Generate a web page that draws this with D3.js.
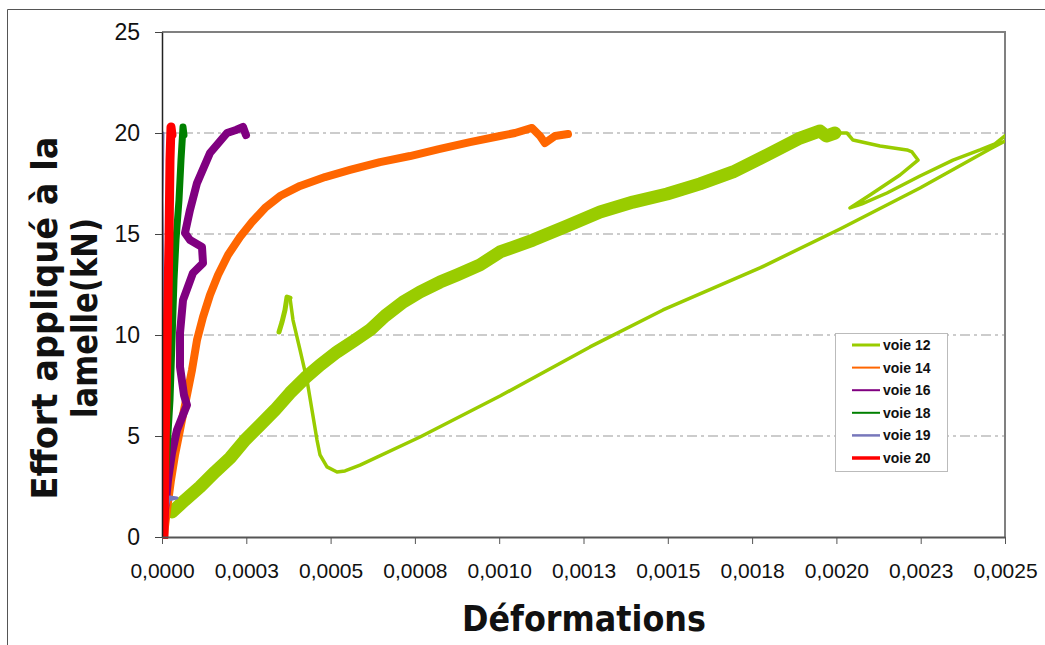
<!DOCTYPE html>
<html><head><meta charset="utf-8">
<script src="https://cdn.jsdelivr.net/npm/d3@7"></script>
<style>body{margin:0;background:#fff}</style>
</head><body>
<svg id="c" width="1045" height="645"></svg>
<script>
// ---- data ----
const yTicks = [0, 5, 10, 15, 20, 25];
const xTicks = [0, 0.00025, 0.0005, 0.00075, 0.001, 0.00125, 0.0015, 0.00175, 0.002, 0.00225, 0.0025];
const xTickLabels = ["0,0000","0,0003","0,0005","0,0008","0,0010","0,0013","0,0015","0,0018","0,0020","0,0023","0,0025"];
const seriesNames = ["voie 12","voie 14","voie 16","voie 18","voie 19","voie 20"];
const seriesColors = ["#99cc00","#ff6600","#800080","#008000","#7777bb","#ff0000"];

// voie 12: noisy loading branch
const voie12Load = [[0.0000297,1.24],[0.0000682,1.83],[0.0001127,2.48],[0.0001572,3.22],[0.0002017,3.91],[0.0002461,4.80],[0.0002906,5.54],[0.0003351,6.29],[0.0003796,7.13],[0.0004241,7.87],[0.0004686,8.51],[0.0005190,9.16],[0.0005724,9.75],[0.0006168,10.25],[0.0006613,10.94],[0.0007147,11.63],[0.0007651,12.13],[0.0008244,12.62],[0.0008749,12.97],[0.0009431,13.47],[0.0010024,14.11],[0.0011002,14.70],[0.0012011,15.40],[0.0012989,16.09],[0.0013968,16.58],[0.0014976,16.98],[0.0015955,17.48],[0.0016934,18.07],[0.0017942,18.91],[0.0018921,19.75],[0.0019514,20.10],[0.0019700,19.85],[0.0019958,20.00]];
// voie 12: unloading / reloading branch
const voie12Tail = [[0.0019958,20.00],[0.0020314,20.00],[0.0020492,19.65],[0.0021293,19.36],[0.0022094,19.16],[0.0022242,19.06],[0.0022420,18.66],[0.0021886,17.92],[0.0020996,16.93],[0.0020403,16.29],[0.0020759,16.49],[0.0021500,17.03],[0.0022479,17.87],[0.0023458,18.66],[0.0024259,19.16],[0.0024703,19.46],[0.0025208,20.15],[0.0025208,19.75],[0.0025000,19.60],[0.0024555,19.21],[0.0022479,17.28],[0.0020107,15.25],[0.0017734,13.32],[0.0014858,11.24],[0.0012693,9.41],[0.0010024,6.98],[0.0007651,4.95],[0.0005872,3.56],[0.0005427,3.27],[0.0005190,3.22],[0.0004893,3.47],[0.0004686,4.06],[0.0004597,4.80],[0.0004448,6.29],[0.0004300,7.77],[0.0004093,9.26],[0.0003885,10.74],[0.0003796,11.83]];
// voie 12: short end hook
const voie12Hook = [[0.0003796,11.83],[0.0003707,11.88],[0.0003648,11.24],[0.0003559,10.64],[0.0003470,10.15]];
const voie14 = [[0.0000059,0.10],[0.0000148,1.34],[0.0000267,2.82],[0.0000386,4.06],[0.0000534,5.30],[0.0000712,6.78],[0.0000890,8.27],[0.0001038,9.75],[0.0001216,10.89],[0.0001423,11.98],[0.0001661,12.97],[0.0001957,13.96],[0.0002313,14.85],[0.0002669,15.59],[0.0003055,16.29],[0.0003499,16.88],[0.0004093,17.38],[0.0004834,17.82],[0.0005575,18.17],[0.0006465,18.56],[0.0007355,18.86],[0.0008244,19.21],[0.0009134,19.55],[0.0010024,19.85],[0.0010469,20.00],[0.0010973,20.25],[0.0011210,19.85],[0.0011358,19.50],[0.0011655,19.85],[0.0012040,19.95]];
const voie16 = [[0.0000030,0.00],[0.0000089,1.34],[0.0000178,2.82],[0.0000297,4.16],[0.0000445,5.30],[0.0000741,6.53],[0.0000652,7.03],[0.0000534,8.42],[0.0000534,10.10],[0.0000623,11.73],[0.0000919,13.07],[0.0001216,13.56],[0.0001186,14.36],[0.0000830,14.70],[0.0000682,15.05],[0.0000830,16.19],[0.0001038,17.52],[0.0001423,19.01],[0.0001928,20.00],[0.0002195,20.15],[0.0002402,20.30],[0.0002491,19.90]];
const voie18 = [[0.0000000,0.00],[0.0000059,1.83],[0.0000148,4.31],[0.0000237,6.78],[0.0000297,9.75],[0.0000356,12.72],[0.0000415,14.70],[0.0000504,16.68],[0.0000563,18.66],[0.0000623,20.30],[0.0000652,19.90]];
const voie19 = [[0.0000030,0.00],[0.0000119,1.34],[0.0000237,1.98],[0.0000445,1.93],[0.0000178,1.83],[0.0000059,3.32],[0.0000030,11.73],[0.0000000,16.68],[0.0000030,20.00]];
const voie20 = [[0.0000059,0.00],[0.0000089,4.31],[0.0000148,9.26],[0.0000208,14.70],[0.0000237,18.66],[0.0000267,20.30],[0.0000297,19.90]];

// ---- drawing ----
const svg = d3.select("#c");
const L = 162, R = 1005, T = 32, B = 537;
const x = d3.scaleLinear().domain([0, 0.0025]).range([L, R]);
const y = d3.scaleLinear().domain([0, 25]).range([B, T]);

// outer frame
svg.append("path").attr("d", `M7.5,645 L7.5,9.5 L1045,9.5`).attr("fill","none").attr("stroke","#555").attr("stroke-width",1);

// gridlines
svg.append("g").selectAll("line").data(yTicks.filter(d => d > 0 && d < 25)).join("line")
  .attr("x1", L).attr("x2", R).attr("y1", d => y(d)).attr("y2", d => y(d))
  .attr("stroke", "#9a9a9a").attr("stroke-width", 1.2).attr("stroke-dasharray", "10,4,3,4");

// plot border (top/right)
svg.append("path").attr("d", `M${L},${T} L${R},${T} L${R},${B}`).attr("fill","none").attr("stroke","#808080").attr("stroke-width",2);

svg.append("defs").append("clipPath").attr("id","clip").append("rect")
  .attr("x", L).attr("y", T - 10).attr("width", R - L).attr("height", B - T + 12);

const line = d3.line().x(d => x(d[0])).y(d => y(d[1]));
const g = svg.append("g").attr("clip-path","url(#clip)");
const draw = (data, color, w) => g.append("path").datum(data).attr("d", line)
  .attr("fill","none").attr("stroke", color).attr("stroke-width", w)
  .attr("stroke-linejoin","round").attr("stroke-linecap","round");
draw(voie12Tail, seriesColors[0], 3.5);
draw(voie12Hook, seriesColors[0], 5);
draw(voie12Load, seriesColors[0], 13);
draw(voie14, seriesColors[1], 8);
draw(voie16, seriesColors[2], 8);
draw(voie18, seriesColors[3], 7);
draw(voie19, seriesColors[4], 3);
draw(voie20, seriesColors[5], 9);

// axes
const yAxis = svg.append("g").attr("transform", `translate(${L},0)`)
  .call(d3.axisLeft(y).tickValues(yTicks).tickSize(7).tickPadding(15).tickSizeOuter(0));
yAxis.select(".domain").attr("stroke","#222").attr("stroke-width",1.5);
yAxis.selectAll(".tick line").attr("stroke","#444");
yAxis.selectAll("text").attr("font-family","'Liberation Sans', Arial, sans-serif").attr("font-size", 23).attr("fill","#111");

const xAxis = svg.append("g").attr("transform", `translate(0,${B})`)
  .call(d3.axisBottom(x).tickValues(xTicks).tickFormat((d, i) => xTickLabels[i]).tickSize(7).tickPadding(19).tickSizeOuter(0));
xAxis.select(".domain").attr("stroke","#555").attr("stroke-width",2);
xAxis.selectAll(".tick line").attr("stroke","#555");
xAxis.selectAll("text").attr("font-family","'Liberation Sans', Arial, sans-serif").attr("font-size", 21).attr("fill","#111");

// titles
svg.append("text").attr("x", 584).attr("y", 631).attr("text-anchor","middle")
  .attr("font-family","'DejaVu Sans', Verdana, sans-serif").attr("font-weight","bold").attr("font-size",36)
  .attr("textLength",244).attr("lengthAdjust","spacingAndGlyphs").attr("fill","#111").text("Déformations");
const yt = svg.append("g").attr("transform","translate(0,318) rotate(-90)");
yt.append("text").attr("x",0).attr("y",57).attr("text-anchor","middle")
  .attr("font-family","'DejaVu Sans', Verdana, sans-serif").attr("font-weight","bold").attr("font-size",36)
  .attr("textLength",363).attr("lengthAdjust","spacingAndGlyphs").attr("fill","#111").text("Effort appliqué à la");
yt.append("text").attr("x",0).attr("y",97).attr("text-anchor","middle")
  .attr("font-family","'DejaVu Sans', Verdana, sans-serif").attr("font-weight","bold").attr("font-size",36)
  .attr("textLength",200).attr("lengthAdjust","spacingAndGlyphs").attr("fill","#111").text("lamelle(kN)");

// legend
const lg = svg.append("g");
lg.append("rect").attr("x",835.5).attr("y",333.5).attr("width",112).attr("height",138)
  .attr("fill","#fff").attr("stroke","#bbb");
const legendWidths = [3, 2, 2, 2, 2.5, 3.5];
const items = lg.selectAll("g.it").data(seriesNames).join("g").attr("class","it")
  .attr("transform", (d, i) => `translate(0,${345 + i * 22.6})`);
items.append("line").attr("x1",852).attr("x2",880).attr("y1",0).attr("y2",0)
  .attr("stroke",(d,i)=>seriesColors[i]).attr("stroke-width",(d,i)=>legendWidths[i]);
items.append("text").attr("x",883).attr("y",5).attr("font-family","'Liberation Sans', Arial, sans-serif")
  .attr("font-weight","bold").attr("font-size",14).attr("fill","#111").text(d => d);
</script>
</body></html>
